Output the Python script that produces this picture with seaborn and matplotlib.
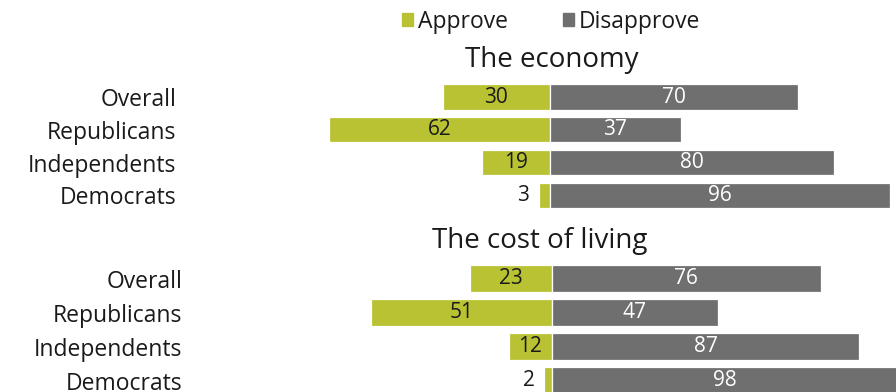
import matplotlib
matplotlib.use("Agg")
import matplotlib.pyplot as plt
import seaborn as sns
import pandas as pd

categories = ["Overall", "Republicans", "Independents", "Democrats"]
economy_approve = [30, 62, 19, 3]
economy_disapprove = [70, 37, 80, 96]
cost_approve = [23, 51, 12, 2]
cost_disapprove = [76, 47, 87, 98]
series_names = ["Approve", "Disapprove"]
panel_titles = ["The economy", "The cost of living"]

GREEN = "#b8c232"
GRAY = "#6e6f6e"
TEXT = "#1a1a1a"

sns.set_theme(style="white")
plt.rcParams["font.family"] = ["Open Sans", "DejaVu Sans"]

W, H = 896, 392
fig = plt.figure(figsize=(W / 100, H / 100), dpi=100)


def px_axes(left, top, right, bottom):
    return fig.add_axes([left / W, 1 - bottom / H, (right - left) / W, (bottom - top) / H])


def draw_panel(ax, approve, disapprove, xlim, label_pad):
    df = pd.DataFrame({"group": categories,
                       "approve": [-v for v in approve],
                       "disapprove": disapprove})
    sns.barplot(data=df, y="group", x="approve", color=GREEN, saturation=1,
                width=0.77, edgecolor="white", linewidth=0.9, ax=ax)
    sns.barplot(data=df, y="group", x="disapprove", color=GRAY, saturation=1,
                width=0.77, edgecolor="white", linewidth=0.9, ax=ax)
    ax.set_xlim(*xlim)
    ax.set_ylim(3.5, -0.5)
    ax.set_xlabel("")
    ax.set_ylabel("")
    ax.set_xticks([])
    ax.tick_params(axis="y", length=0, pad=label_pad, labelsize=16.5, labelcolor=TEXT)
    for s in ax.spines.values():
        s.set_visible(False)
    for i, (a, d) in enumerate(zip(approve, disapprove)):
        if a >= 5:
            ax.text(-a / 2, i, str(a), ha="center", va="center", fontsize=15, color=TEXT)
        else:
            ax.text(-a - 2.8, i, str(a), ha="right", va="center", fontsize=15, color=TEXT)
        ax.text(d / 2, i, str(d), ha="center", va="center", fontsize=15, color="white")


# top panel: zero line at x=549.5 px, 3.55 px per point
ax1 = px_axes(300, 80.6, 896, 211.9)
draw_panel(ax1, economy_approve, economy_disapprove,
           (-(549.5 - 300) / 3.55, (896 - 549.5) / 3.55), 124 / (100 / 72))

# bottom panel: zero line at x=551.5 px, 3.54 px per point
ax2 = px_axes(300, 261.5, 896, 397.5)
draw_panel(ax2, cost_approve, cost_disapprove,
           (-(551.5 - 300) / 3.54, (896 - 551.5) / 3.54), 118 / (100 / 72))

fig.text(552 / W, 1 - 67 / H, panel_titles[0], ha="center", va="baseline",
         fontsize=20, color=TEXT)
fig.text(540 / W, 1 - 248 / H, panel_titles[1], ha="center", va="baseline",
         fontsize=20, color=TEXT)

handles = [plt.Rectangle((0, 0), 1, 1, color=GREEN),
           plt.Rectangle((0, 0), 1, 1, color=GRAY)]
fig.legend(handles, series_names, loc="center", bbox_to_anchor=(551 / W, 1 - 22 / H),
           ncol=2, frameon=False, fontsize=16.5, handlelength=0.5, handleheight=0.5,
           handletextpad=0.2, columnspacing=2.4, labelcolor=TEXT)

fig.savefig("out.png", dpi=100, facecolor="white")
